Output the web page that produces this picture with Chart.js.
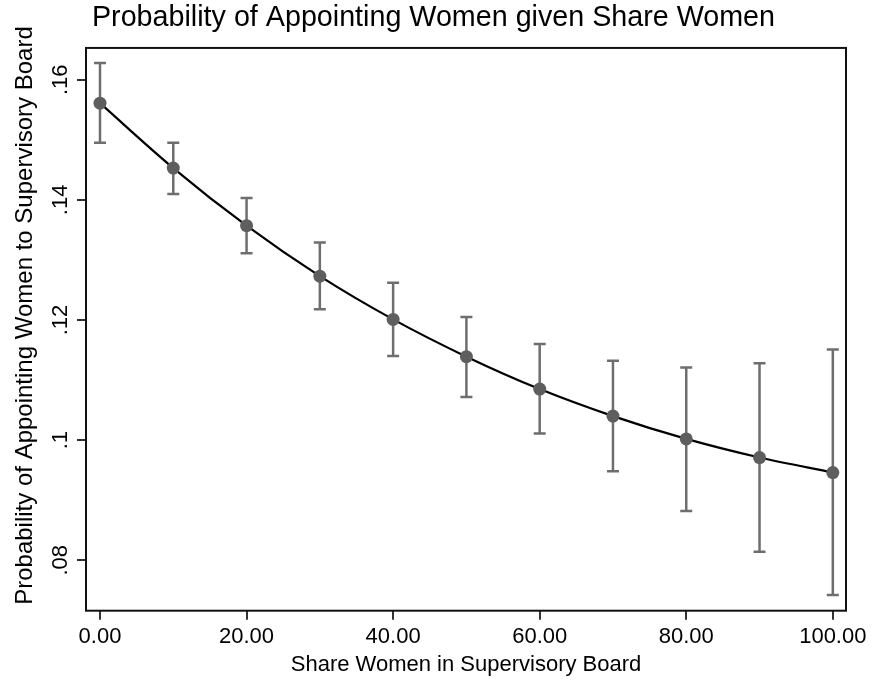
<!DOCTYPE html>
<html>
<head>
<meta charset="utf-8">
<script src="https://cdn.jsdelivr.net/npm/chart.js@4/dist/chart.umd.min.js"></script>
<style>
html,body{margin:0;padding:0;background:#fff;}
#wrap{width:874px;height:683px;}
</style>
</head>
<body>
<div id="wrap"><canvas id="myChart" width="874" height="683"></canvas></div>
<script>
// share of women on the board (x) and predicted probability with CI
const shareWomen=[0,10,20,30,40,50,60,70,80,90,100];
const probAppoint=[0.1561,0.1453,0.1357,0.1273,0.1201,0.1139,0.1085,0.1040,0.1002,0.0971,0.0946];
const ciUpper=[0.1628,0.1495,0.1403,0.1329,0.1262,0.1205,0.1160,0.1132,0.1121,0.1128,0.1151];
const ciLower=[0.1495,0.1410,0.1311,0.1218,0.1140,0.1072,0.1011,0.0948,0.0882,0.0814,0.0742];
const xTickVals=[0,20,40,60,80,100];
const xTickLabels=["0.00","20.00","40.00","60.00","80.00","100.00"];
const yTickVals=[0.08,0.10,0.12,0.14,0.16];
const yTickLabels=[".08",".1",".12",".14",".16"];

const FONT="'Liberation Sans', Arial, Helvetica, sans-serif";

const stataDecor={
    id:"stataDecor",
    beforeDatasetsDraw(chart){
        const ctx=chart.ctx;
        const xs=chart.scales.x, ys=chart.scales.y;
        ctx.save();
        ctx.strokeStyle="#6e6e6e";
        ctx.lineWidth=2.5;
        for(let i=0;i<shareWomen.length;i++){
            const px=xs.getPixelForValue(shareWomen[i]);
            const top=ys.getPixelForValue(ciUpper[i]);
            const bot=ys.getPixelForValue(ciLower[i]);
            ctx.beginPath();
            ctx.moveTo(px,top);ctx.lineTo(px,bot);
            ctx.moveTo(px-6,top);ctx.lineTo(px+6,top);
            ctx.moveTo(px-6,bot);ctx.lineTo(px+6,bot);
            ctx.stroke();
        }
        ctx.restore();
    },
    afterDraw(chart){
        const ctx=chart.ctx;
        const a=chart.chartArea;
        const ys=chart.scales.y;
        ctx.save();
        // frame
        ctx.strokeStyle="#111";
        ctx.lineWidth=2;
        ctx.strokeRect(a.left,a.top,a.right-a.left,a.bottom-a.top);
        // rotated y tick labels
        ctx.fillStyle="#000";
        ctx.font="22px "+FONT;
        ctx.textAlign="center";
        ctx.textBaseline="alphabetic";
        yTickVals.forEach((v,i)=>{
            const py=ys.getPixelForValue(v);
            ctx.save();
            ctx.translate(67,py);
            ctx.rotate(-Math.PI/2);
            ctx.fillText(yTickLabels[i],0,0);
            ctx.restore();
        });
        // y axis title
        ctx.font="24px "+FONT;
        ctx.save();
        ctx.translate(32,315.5);
        ctx.rotate(-Math.PI/2);
        ctx.fillText("Probability of Appointing Women to Supervisory Board",0,0);
        ctx.restore();
        ctx.restore();
    }
};

const ctx=document.getElementById("myChart").getContext("2d");
const myChart=new Chart(ctx,{
    type:"line",
    data:{
        datasets:[
            {
                label:"Probability",
                data:shareWomen.map((x,i)=>({x:x,y:probAppoint[i]})),
                borderColor:"#000",
                borderWidth:2.2,
                cubicInterpolationMode:"monotone",
                pointRadius:6.5,
                pointBackgroundColor:"#5e5e5e",
                pointBorderColor:"#5e5e5e",
                pointBorderWidth:0,
                fill:false,
            },
        ],
    },
    options:{
        responsive:false,
        animation:false,
        events:[],
        layout:{padding:{left:21,right:28,top:0,bottom:0}},
        plugins:{
            legend:{display:false},
            tooltip:{enabled:false},
            title:{
                display:true,
                text:"Probability of Appointing Women given Share Women",
                color:"#000",
                font:{family:FONT,size:28.7,weight:"normal",lineHeight:1.2},
                padding:{top:0.5,bottom:13},
            },
        },
        scales:{
            x:{
                type:"linear",
                min:-1.91,
                max:101.8,
                afterBuildTicks:(s)=>{s.ticks=xTickVals.map(v=>({value:v}));},
                afterFit:(s)=>{s.height=72.3;},
                border:{display:false},
                grid:{drawOnChartArea:false,drawTicks:true,tickLength:9,color:"#333",lineWidth:2},
                ticks:{
                    color:"#000",
                    font:{family:FONT,size:22},
                    padding:4,
                    maxRotation:0,
                    autoSkip:false,
                    callback:(v,i)=>xTickLabels[i],
                },
                title:{
                    display:true,
                    text:"Share Women in Supervisory Board",
                    color:"#000",
                    font:{family:FONT,size:22},
                    padding:{top:0,bottom:5},
                },
            },
            y:{
                type:"linear",
                min:0.0716,
                max:0.1653,
                afterBuildTicks:(s)=>{s.ticks=yTickVals.map(v=>({value:v}));},
                afterFit:(s)=>{s.width=65;},
                border:{display:false},
                grid:{drawOnChartArea:false,drawTicks:true,tickLength:9,color:"#333",lineWidth:2},
                ticks:{display:false},
            },
        },
    },
    plugins:[stataDecor],
});
</script>
</body>
</html>
